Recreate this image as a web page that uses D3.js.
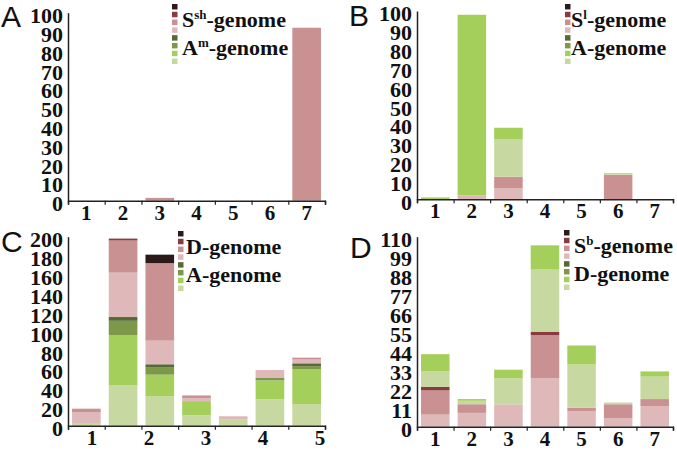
<!DOCTYPE html>
<html>
<head>
<meta charset="utf-8">
<script src="https://cdn.jsdelivr.net/npm/d3@7"></script>
<style>
body{margin:0;background:#fff;}
.serif{font-family:"Liberation Serif","Times New Roman",Times,serif;font-weight:bold;}
.sans{font-family:"Liberation Sans",Arial,sans-serif;}
</style>
</head>
<body>
<script>
// categories and tick labels
var cats7 = ["1","2","3","4","5","6","7"];
var cLabels = ["1","2","3","4","5"];
var ticks100 = [0,10,20,30,40,50,60,70,80,90,100];
var ticks200 = [0,20,40,60,80,100,120,140,160,180,200];
var ticks110 = [0,11,22,33,44,55,66,77,88,99,110];

// panel A
var aMedPink = [0,0,1.5,0,0,0,92];

// panel B
var bLightPink   = [0,2,6,0,0,0,0];
var bMedPink     = [0,0,6,0,0,13,0];
var bPaleGreen   = [0,0,20,0,0,1,0];
var bBrightGreen = [1,96,6,0,0,0,0];

// panel C
var cPaleGreen   = [2,43,31,11,7,28,23];
var cBrightGreen = [0,53,23,15,0,20,37];
var cOlive       = [0,15,8,0,0,3,3];
var cDarkOlive   = [0,4,3,0,0,0,3];
var cLightPink   = [12,47,25,3,3,8,4];
var cMedPink     = [4,34,82,3,0,0,2];
var cDarkRed     = [0,2,0,0,0,0,0];
var cBlack       = [0,0,9,0,0,0,0];

// panel D
var dLightPink   = [7,8,13,28,9,5,12];
var dMedPink     = [14,5,0,25,2,8,4];
var dDarkRed     = [2,0,0,2,0,0,0];
var dPaleGreen   = [9,2,15,36,25,1,13];
var dBrightGreen = [10,1,5,14,11,0,3];

var colors = {
  black:"#2b1a1c", darkRed:"#8a3b42", medPink:"#c99191", lightPink:"#dfb9b9",
  darkOlive:"#566a34", olive:"#7e9849", brightGreen:"#a4cf5b", paleGreen:"#c7d9a1"
};
var legendOrder = ["black","darkRed","medPink","lightPink","darkOlive","olive","brightGreen","paleGreen"];
var pinkFirst  = ["lightPink","medPink","darkRed","black","paleGreen","brightGreen","olive","darkOlive"];
var greenFirst = ["paleGreen","brightGreen","olive","darkOlive","lightPink","medPink","darkRed","black"];

var panels = [
  {letter:"A", lx:1, ly:27, left:68, right:325, top:12.7, bottom:200.7, max:100, ticks:ticks100,
   series:{medPink:aMedPink}, order:pinkFirst, labels:cats7,
   legX:172, legY:4, legText:[["S","sh"],["A","m"]], legTextX:182},
  {letter:"B", lx:349, ly:26, left:417, right:673, top:11, bottom:199.3, max:100, ticks:ticks100,
   series:{lightPink:bLightPink, medPink:bMedPink, paleGreen:bPaleGreen, brightGreen:bBrightGreen},
   order:pinkFirst, labels:cats7,
   legX:565, legY:4, legText:[["S","l"],["A",""]], legTextX:571},
  {letter:"C", lx:1, ly:252, left:68, right:325, top:236.7, bottom:425.7, max:200, ticks:ticks200,
   series:{paleGreen:cPaleGreen, brightGreen:cBrightGreen, olive:cOlive, darkOlive:cDarkOlive,
           lightPink:cLightPink, medPink:cMedPink, darkRed:cDarkRed, black:cBlack},
   order:greenFirst, labels:cLabels,
   legX:178, legY:231, legText:[["D",""],["A",""]], legTextX:186},
  {letter:"D", lx:350, ly:258, left:417, right:673, top:236.7, bottom:426.7, max:110, ticks:ticks110,
   series:{lightPink:dLightPink, medPink:dMedPink, darkRed:dDarkRed, paleGreen:dPaleGreen, brightGreen:dBrightGreen},
   order:pinkFirst, labels:cats7,
   legX:564, legY:230, legText:[["S","b"],["D",""]], legTextX:574}
];

var svg = d3.select("body").append("svg")
  .attr("width",677)
  .attr("height",451);

panels.forEach(function(p){
  var rows = cats7.map(function(c,i){
    var r = {cat:c};
    legendOrder.forEach(function(k){ r[k] = p.series[k] ? p.series[k][i] : 0; });
    return r;
  });

  var x = d3.scaleBand().domain(cats7).range([p.left,p.right]).paddingInner(0.22).paddingOuter(0.11);
  var y = d3.scaleLinear().domain([0,p.max]).range([p.bottom,p.top]);
  var stacked = d3.stack().keys(p.order)(rows);

  var g = svg.append("g");

  g.selectAll("g.layer")
    .data(stacked)
    .enter()
    .append("g")
    .attr("fill",function(d){ return colors[d.key]; })
    .selectAll("rect")
    .data(function(d){ return d; })
    .enter()
    .append("rect")
    .attr("x",function(d){ return x(d.data.cat); })
    .attr("width",x.bandwidth())
    .attr("y",function(d){ return y(d[1]); })
    .attr("height",function(d){ return y(d[0]) - y(d[1]); });

  // y axis
  var yAxis = g.append("g")
    .attr("transform","translate("+p.left+",0)")
    .call(d3.axisLeft(y).tickValues(p.ticks).tickSize(0).tickPadding(5));
  yAxis.attr("font-family",null).attr("font-size",null);
  yAxis.select(".domain").attr("stroke","#222").attr("stroke-width",1.5);
  yAxis.selectAll("text")
    .attr("class","serif")
    .style("font-size","22px")
    .attr("fill","#111")
    .attr("dy","0.45em");

  // x axis with ticks at band edges
  var xEdge = d3.scaleLinear().domain([0,7]).range([p.left,p.right]);
  var xAxis = g.append("g")
    .attr("transform","translate(0,"+p.bottom+")")
    .call(d3.axisBottom(xEdge).ticks(7).tickSizeInner(4).tickSizeOuter(4).tickFormat(""));
  xAxis.select(".domain").attr("stroke","#222").attr("stroke-width",1.5);
  xAxis.selectAll(".tick line").attr("stroke","#222").attr("stroke-width",1.2);

  var labelX;
  if (p.labels.length === 7) {
    labelX = function(d){ return x(d) + x.bandwidth()/2; };
  } else {
    var pt = d3.scalePoint().domain(p.labels).range([p.left+24,p.left+252]);
    labelX = function(d){ return pt(d); };
  }
  g.selectAll("text.xl")
    .data(p.labels)
    .enter()
    .append("text")
    .attr("class","serif")
    .attr("x",labelX)
    .attr("y",p.bottom+19)
    .attr("text-anchor","middle")
    .style("font-size","21px")
    .attr("fill","#111")
    .text(function(d){ return d; });

  // legend
  var ly = d3.scaleBand().domain(legendOrder).range([p.legY,p.legY+60]).paddingInner(0.3);
  g.selectAll("rect.leg")
    .data(legendOrder)
    .enter()
    .append("rect")
    .attr("class","leg")
    .attr("x",p.legX)
    .attr("y",function(d){ return ly(d); })
    .attr("width",5.5)
    .attr("height",ly.bandwidth())
    .attr("fill",function(d){ return colors[d]; });

  p.legText.forEach(function(t,i){
    var tx = g.append("text")
      .attr("class","serif")
      .attr("x",p.legTextX)
      .attr("y",p.legY + 23 + i*28)
      .style("font-size","22px")
      .attr("fill","#111");
    tx.append("tspan").text(t[0]);
    if (t[1]) {
      tx.append("tspan").style("font-size","13px").attr("dy",-8).text(t[1]);
      tx.append("tspan").attr("dy",8).text("-genome");
    } else {
      tx.append("tspan").text("-genome");
    }
  });

  // panel letter
  svg.append("text")
    .attr("class","sans")
    .attr("x",p.lx)
    .attr("y",p.ly)
    .style("font-size","30px")
    .attr("fill","#111")
    .text(p.letter);
});
</script>
</body>
</html>
